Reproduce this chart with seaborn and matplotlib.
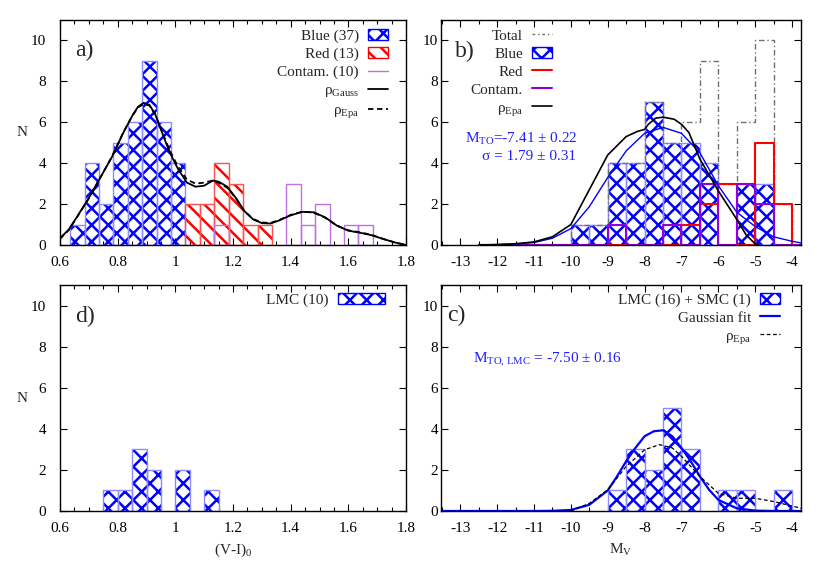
import numpy as np
import pandas as pd
import matplotlib
matplotlib.use("Agg")
import matplotlib.pyplot as plt
import seaborn as sns
from matplotlib.patches import Patch
from matplotlib.lines import Line2D
from matplotlib.ticker import FixedLocator, FixedFormatter, MultipleLocator

sns.set_theme(style="ticks")
plt.rcParams['font.family'] = ['Liberation Serif', 'DejaVu Serif']
plt.rcParams['mathtext.fontset'] = 'custom'
plt.rcParams['mathtext.rm'] = 'Liberation Serif'
plt.rcParams['mathtext.it'] = 'Liberation Serif:italic'
plt.rcParams['mathtext.bf'] = 'Liberation Serif:bold'
plt.rcParams['axes.unicode_minus'] = False
plt.rcParams['hatch.linewidth'] = 1.8

# ---------------- data ----------------
# panel a) (V-I)0 distributions
blue_a_edges = [0.635, 0.685, 0.735, 0.785, 0.835, 0.885, 0.935, 0.985, 1.035]
blue_a_counts = [1, 4, 2, 5, 6, 9, 6, 4]
red_a_edges = [1.035, 1.085, 1.135, 1.185, 1.235, 1.285, 1.335]
red_a_counts = [2, 2, 4, 3, 1, 1]
contam_a_edges = [1.135, 1.185, 1.235, 1.285, 1.335, 1.385, 1.435, 1.485, 1.535, 1.585, 1.635, 1.685]
contam_a_counts = [1, 0, 0, 0, 0, 3, 1, 2, 0, 1, 1]

gauss_a_x = [0.60, 0.63, 0.66, 0.70, 0.74, 0.78, 0.82, 0.85, 0.87, 0.89, 0.91, 0.93, 0.95, 0.97,
             0.99, 1.01, 1.04, 1.07, 1.10, 1.13, 1.15, 1.18, 1.21, 1.24, 1.27, 1.30, 1.33, 1.36,
             1.40, 1.44, 1.48, 1.52, 1.56, 1.60, 1.64, 1.68, 1.72, 1.76, 1.80]
gauss_a_y = [0.33, 0.75, 1.40, 2.30, 3.30, 4.30, 5.50, 6.30, 6.75, 6.95, 6.85, 6.40, 5.65, 4.90,
             4.25, 3.70, 3.05, 2.85, 2.90, 3.15, 3.10, 2.85, 2.30, 1.65, 1.25, 1.07, 1.05, 1.20,
             1.45, 1.62, 1.60, 1.35, 0.95, 0.70, 0.60, 0.48, 0.30, 0.13, 0.00]
epa_a_x = gauss_a_x
epa_a_y = [0.30, 0.72, 1.38, 2.28, 3.30, 4.32, 5.52, 6.30, 6.72, 6.90, 6.82, 6.38, 5.68, 4.98,
           4.35, 3.82, 3.20, 3.00, 3.05, 3.15, 3.05, 2.80, 2.28, 1.65, 1.27, 1.10, 1.08, 1.22,
           1.47, 1.63, 1.58, 1.33, 0.95, 0.72, 0.62, 0.50, 0.30, 0.13, 0.00]

# panel b) M_V distributions
mv_edges = [-12.5, -12.0, -11.5, -11.0, -10.5, -10.0, -9.5, -9.0, -8.5, -8.0, -7.5, -7.0,
            -6.5, -6.0, -5.5, -5.0, -4.5, -4.0, -3.5]
total_b_counts = [0, 0, 0, 0, 0, 1, 1, 4, 4, 7, 5, 6, 9, 3, 6, 10, 2, 0]
red_b_counts = [0, 0, 0, 0, 0, 0, 0, 0, 0, 0, 0, 1, 2, 3, 0, 5, 2, 0]
contam_b_counts = [0, 0, 0, 0, 0, 0, 0, 1, 0, 0, 1, 0, 3, 0, 3, 2, 0, 0]
blue_b_edges = [-10.0, -9.5, -9.0, -8.5, -8.0, -7.5, -7.0, -6.5, -6.0, -5.5, -5.0, -4.5]
blue_b_counts = [1, 1, 4, 4, 7, 5, 5, 4, 0, 3, 3]

gfit_b_x = [-12.5, -12.0, -11.5, -11.0, -10.5, -10.0, -9.5, -9.0, -8.5, -8.0, -7.5, -7.0,
            -6.5, -6.0, -5.5, -5.0, -4.5, -4.0, -3.75]
gfit_b_y = [0.00, 0.02, 0.05, 0.12, 0.33, 0.80, 1.87, 3.30, 4.60, 5.46, 5.75, 5.46,
            4.50, 2.90, 1.60, 0.90, 0.40, 0.18, 0.10]
epa_b_x = [-12.5, -12.0, -11.5, -11.0, -10.5, -10.0, -9.5, -9.0, -8.5, -8.2, -8.0, -7.9,
           -7.7, -7.5, -7.2, -7.0, -6.8, -6.5, -6.0, -5.5, -5.25, -5.0, -4.9]
epa_b_y = [0.00, 0.02, 0.06, 0.15, 0.40, 1.00, 2.70, 4.40, 5.30, 5.55, 5.65, 5.90,
           6.20, 6.25, 6.15, 5.90, 5.50, 4.20, 2.64, 1.25, 0.50, 0.05, 0.00]

# panel d) LMC (V-I)0
lmc_d_edges = [0.75, 0.80, 0.85, 0.90, 0.95, 1.00, 1.05, 1.10, 1.15]
lmc_d_counts = [1, 1, 3, 2, 0, 2, 0, 1]

# panel c) LMC + SMC M_V
lmc_c_edges = [-9.0, -8.5, -8.0, -7.5, -7.0, -6.5, -6.0, -5.5, -5.0, -4.5, -4.0]
lmc_c_counts = [1, 3, 2, 5, 3, 0, 1, 1, 0, 1]
gfit_c_x = [-13.5, -11.0, -10.5, -10.0, -9.5, -9.0, -8.75, -8.5, -8.25, -8.0, -7.75, -7.5,
            -7.25, -7.0, -6.75, -6.5, -6.25, -6.0, -5.5, -5.0, -4.5, -3.75]
gfit_c_y = [0.00, 0.00, 0.01, 0.05, 0.30, 1.00, 1.68, 2.42, 3.07, 3.64, 3.88, 3.93,
            3.64, 3.07, 2.42, 1.68, 1.03, 0.54, 0.13, 0.02, 0.00, 0.00]
epa_c_x = [-10.0, -9.5, -9.0, -8.5, -8.0, -7.6, -7.25, -7.0, -6.5, -6.0, -5.5, -5.0,
           -4.5, -4.0, -3.75]
epa_c_y = [0.00, 0.37, 1.03, 2.17, 2.98, 3.23, 3.07, 2.66, 1.68, 0.86, 0.62, 0.62,
           0.46, 0.24, 0.13]

vi_ticks = [0.6, 0.8, 1.0, 1.2, 1.4, 1.6, 1.8]
vi_ticklabels = ["0.6", "0.8", "1", "1.2", "1.4", "1.6", "1.8"]
mv_ticks = [-13, -12, -11, -10, -9, -8, -7, -6, -5, -4]
mv_ticklabels = ["-13", "-12", "-11", "-10", "-9", "-8", "-7", "-6", "-5", "-4"]
n_ticks = [0, 2, 4, 6, 8, 10]
n_ticklabels = ["0", "2", "4", "6", "8", "10"]

# ---------------- style ----------------
BLUE = "#0000ff"
LBLUE = "#8c8cff"
RED = "#ff0000"
LRED = "#ff5050"
PURP_A = "#c070e0"
PURP_B = "#9400d3"
GRAY = "#707070"
TXTBLUE = "#2020ff"
FS = 11
HX = "xx"
HR = "\\\\"


def hist_frame(edges, counts):
    e = np.asarray(edges, dtype=float)
    return pd.DataFrame({"x": (e[:-1] + e[1:]) / 2.0, "w": counts})


def bars(ax, edges, counts, hatch=None, hatch_color=None, edge_color=None, lw=1.0):
    df = hist_frame(edges, counts)
    if hatch is not None:
        n0 = len(ax.patches)
        sns.histplot(data=df, x="x", weights="w", bins=edges, element="bars",
                     fill=False, color=hatch_color, linewidth=0, ax=ax)
        for p in ax.patches[n0:]:
            if p.get_height() == 0:
                p.remove()
                continue
            p.set_hatch(hatch)
            p.set_edgecolor(hatch_color)
            p.set_linewidth(0)
    n0 = len(ax.patches)
    sns.histplot(data=df, x="x", weights="w", bins=edges, element="bars",
                 fill=False, color=edge_color, linewidth=lw, ax=ax)
    for p in ax.patches[n0:]:
        if p.get_height() == 0:
            p.remove()
        else:
            p.set_edgecolor(edge_color)
            p.set_linewidth(lw)


def steps(ax, edges, counts, color, lw=1.4, **kw):
    df = hist_frame(edges, counts)
    sns.histplot(data=df, x="x", weights="w", bins=edges, element="step",
                 fill=False, color=color, linewidth=lw, ax=ax, **kw)


def style_axes(ax, xkind, ypad):
    ax.set_ylim(0, 11)
    ax.yaxis.set_major_locator(FixedLocator(n_ticks))
    ax.yaxis.set_major_formatter(FixedFormatter(n_ticklabels))
    if xkind == "vi":
        ax.set_xlim(0.6, 1.8)
        ax.xaxis.set_major_locator(FixedLocator(vi_ticks))
        ax.xaxis.set_major_formatter(FixedFormatter(vi_ticklabels))
        ax.xaxis.set_minor_locator(MultipleLocator(0.05))
    else:
        ax.set_xlim(-13.52, -3.76)
        ax.xaxis.set_major_locator(FixedLocator(mv_ticks))
        ax.xaxis.set_major_formatter(FixedFormatter(mv_ticklabels))
        ax.xaxis.set_minor_locator(MultipleLocator(0.5))
    ax.tick_params(which="both", direction="in", top=True, right=True,
                   labelsize=FS, colors="black", width=0.8)
    ax.tick_params(which="major", length=5)
    ax.tick_params(which="minor", length=2.6)
    ax.tick_params(axis="x", which="both", pad=8)
    ax.tick_params(axis="y", which="both", pad=ypad)
    for s in ax.spines.values():
        s.set_visible(True)
        s.set_color("black")
        s.set_linewidth(1.0)
    ax.set_xlabel("")
    ax.set_ylabel("")


LEG = dict(loc="upper right", frameon=False, markerfirst=False, fontsize=FS,
           handlelength=1.3, handleheight=0.7, handletextpad=0.6, labelspacing=0.28,
           borderaxespad=0, borderpad=0)

fig = plt.figure(figsize=(8.30, 5.81), dpi=100)
W, H = 830.0, 581.0
ax_a = fig.add_axes([60 / W, 1 - 245 / H, 346 / W, 225 / H])
ax_b = fig.add_axes([441 / W, 1 - 245 / H, 360 / W, 225 / H])
ax_d = fig.add_axes([60 / W, 1 - 511 / H, 346 / W, 226 / H])
ax_c = fig.add_axes([441 / W, 1 - 511 / H, 360 / W, 226 / H])

# ---- panel a ----
bars(ax_a, blue_a_edges, blue_a_counts, hatch=HX, hatch_color=BLUE, edge_color=LBLUE)
bars(ax_a, red_a_edges, red_a_counts, hatch=HR, hatch_color=RED, edge_color=LRED)
bars(ax_a, contam_a_edges, contam_a_counts, edge_color=PURP_A, lw=1.0)
sns.lineplot(x=gauss_a_x, y=gauss_a_y, ax=ax_a, color="black", linewidth=1.3)
sns.lineplot(x=epa_a_x, y=epa_a_y, ax=ax_a, color="black", linewidth=1.3, linestyle=(0, (3, 2)))
style_axes(ax_a, "vi", 10)
ax_a.text(0.043, 0.865, "a)", transform=ax_a.transAxes, fontsize=17, va="center", ha="left")
h_a = [Patch(facecolor="none", edgecolor=BLUE, hatch=HX, linewidth=1.0),
       Patch(facecolor="none", edgecolor=RED, hatch=HR, linewidth=1.0),
       Line2D([], [], color=PURP_A, lw=1.0),
       Line2D([], [], color="black", lw=1.3),
       Line2D([], [], color="black", lw=1.3, linestyle=(0, (3, 2)))]
l_a = ["Blue (37)", "Red (13)", "Contam. (10)", "\u03c1$_{\\rm Gauss}$", "\u03c1$_{\\rm Epa}$"]
ax_a.legend(h_a, l_a, bbox_to_anchor=(0.948, 0.96), **LEG)

# ---- panel b ----
steps(ax_b, mv_edges, total_b_counts, GRAY, lw=1.0, linestyle=(0, (4, 2, 1, 2)))
bars(ax_b, blue_b_edges, blue_b_counts, hatch=HX, hatch_color=BLUE, edge_color=LBLUE)
steps(ax_b, mv_edges, red_b_counts, RED, lw=1.5)
steps(ax_b, mv_edges, contam_b_counts, PURP_B, lw=1.5)
sns.lineplot(x=gfit_b_x, y=gfit_b_y, ax=ax_b, color=BLUE, linewidth=1.0)
sns.lineplot(x=epa_b_x, y=epa_b_y, ax=ax_b, color="black", linewidth=1.2)
style_axes(ax_b, "mv", 2)
ax_b.text(0.039, 0.858, "b)", transform=ax_b.transAxes, fontsize=17, va="center", ha="left")
ax_b.text(0.067, 0.47, "M$_{\\rm TO}$=-7.41 \u00b1 0.22", transform=ax_b.transAxes,
          fontsize=FS, color=TXTBLUE, va="center", ha="left")
ax_b.text(0.114, 0.392, "\u03c3 = 1.79 \u00b1 0.31", transform=ax_b.transAxes,
          fontsize=FS, color=TXTBLUE, va="center", ha="left")
h_b = [Line2D([], [], color=GRAY, lw=1.0, linestyle=(0, (2, 2, 1, 2))),
       Patch(facecolor="none", edgecolor=BLUE, hatch=HX, linewidth=1.0),
       Line2D([], [], color=RED, lw=1.5),
       Line2D([], [], color=PURP_B, lw=1.5),
       Line2D([], [], color="black", lw=1.2)]
l_b = ["Total", "Blue", "Red", "Contam.", "\u03c1$_{\\rm Epa}$"]
ax_b.legend(h_b, l_b, bbox_to_anchor=(0.308, 0.96), **LEG)

# ---- panel d ----
bars(ax_d, lmc_d_edges, lmc_d_counts, hatch=HX, hatch_color=BLUE, edge_color=LBLUE)
style_axes(ax_d, "vi", 10)
ax_d.text(0.043, 0.863, "d)", transform=ax_d.transAxes, fontsize=17, va="center", ha="left")
leg_d = dict(LEG)
leg_d["handlelength"] = 3.1
ax_d.legend([Patch(facecolor="none", edgecolor=BLUE, hatch=HX, linewidth=1.0)], ["LMC (10)"],
            bbox_to_anchor=(0.939, 0.965), **leg_d)

# ---- panel c ----
bars(ax_c, lmc_c_edges, lmc_c_counts, hatch=HX, hatch_color=BLUE, edge_color=LBLUE)
sns.lineplot(x=gfit_c_x, y=gfit_c_y, ax=ax_c, color=BLUE, linewidth=1.6)
sns.lineplot(x=epa_c_x, y=epa_c_y, ax=ax_c, color="black", linewidth=0.9, linestyle=(0, (3, 2)))
style_axes(ax_c, "mv", 2)
ax_c.text(0.017, 0.867, "c)", transform=ax_c.transAxes, fontsize=17, va="center", ha="left")
ax_c.text(0.089, 0.668, "M$_{\\rm TO,\\,LMC}$ = -7.50 \u00b1 0.16", transform=ax_c.transAxes,
          fontsize=FS, color=TXTBLUE, va="center", ha="left")
h_c = [Patch(facecolor="none", edgecolor=BLUE, hatch=HX, linewidth=1.0),
       Line2D([], [], color=BLUE, lw=1.6),
       Line2D([], [], color="black", lw=0.9, linestyle=(0, (3, 2)))]
l_c = ["LMC (16) + SMC (1)", "Gaussian fit", "\u03c1$_{\\rm Epa}$"]
ax_c.legend(h_c, l_c, bbox_to_anchor=(0.942, 0.965), **LEG)

# axis labels
for ax in (ax_a, ax_d):
    ax.set_ylabel("N", rotation=0, fontsize=FS, va="center", ha="center")
    ax.yaxis.set_label_coords(-0.11, 0.5)
ax_d.set_xlabel("(V-I)$_0$", fontsize=FS)
ax_d.xaxis.set_label_coords(0.5, -0.135)
ax_c.set_xlabel("M$_{\\rm V}$", fontsize=FS)
ax_c.xaxis.set_label_coords(0.5, -0.135)

fig.savefig("out.png", dpi=100)
